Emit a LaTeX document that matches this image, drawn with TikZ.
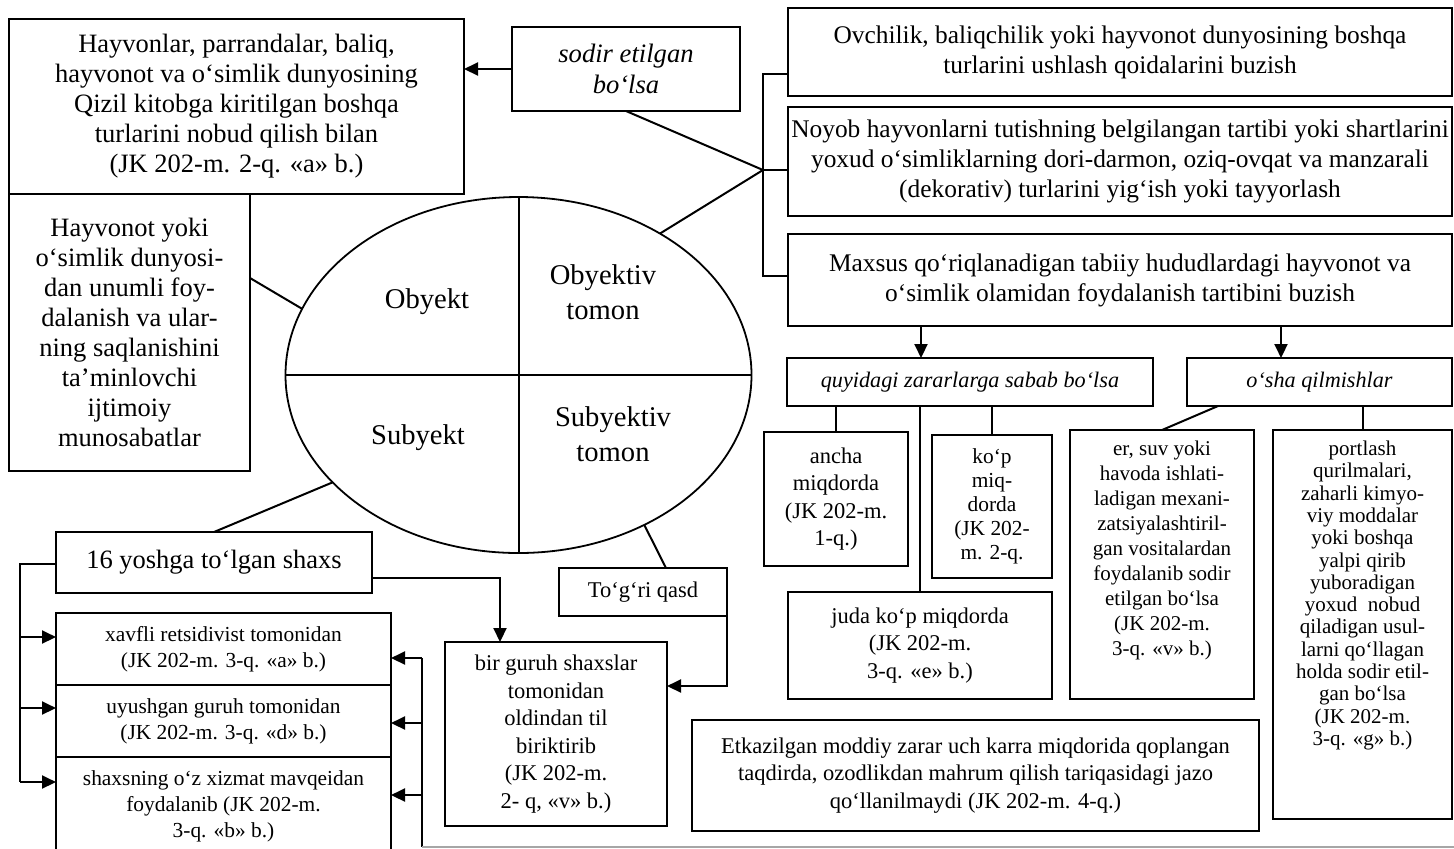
\documentclass[tikz,border=0pt]{standalone}
\usepackage{fontspec}
\setmainfont{Liberation Serif}
\usetikzlibrary{shapes.geometric,arrows.meta,calc}
\begin{document}
\begin{tikzpicture}[x=0.5pt,y=-0.5pt,
  every node/.style={inner sep=0pt,outer sep=0pt},
  box/.style={draw,line width=1pt,align=center,inner sep=0pt,fill=white},
  span/.style n args={4}{minimum width={(#3-#1)*0.5pt},minimum height={(#4-#2)*0.5pt},at={({(#1+#3)/2},{(#2+#4)/2})}},
  conn/.style={line width=1pt},
  arr/.style={line width=1pt,-{Triangle[length=7pt,width=6.5pt]}},
  fmain/.style={font=\fontsize{13.25pt}{15pt}\selectfont},
  fright/.style={font=\fontsize{12.7pt}{15pt}\selectfont},
  fell/.style={font=\fontsize{14.3pt}{17.5pt}\selectfont,align=center},
  fitl/.style={font=\fontsize{13.3pt}{15.5pt}\selectfont\itshape},
  fitsm/.style={font=\fontsize{11.1pt}{13pt}\selectfont\itshape},
  fsm/.style={font=\fontsize{11.25pt}{13.75pt}\selectfont},
  fkop/.style={font=\fontsize{10.7pt}{12pt}\selectfont},
  fer/.style={font=\fontsize{10.5pt}{12.5pt}\selectfont,align=center},
  fpl/.style={font=\fontsize{10.5pt}{11.15pt}\selectfont,align=center},
  fs/.style={font=\fontsize{10.7pt}{13pt}\selectfont}
]
\useasboundingbox[fill=white] (0,0) rectangle (1454,848);

% ellipse
\node[draw,ellipse,line width=0.9pt,minimum width=233pt,minimum height=178pt] (E) at (518.5,375) {};
\draw[conn] (E.west) -- (E.east);
\draw[conn] (E.north) -- (E.south);
\node[fell] (ob) at (427,302) {Obyekt};
\node[fell] (obt) at (603,292) {Obyektiv\\tomon};
\node[fell] (sb) at (418,438) {Subyekt};
\node[fell] (sbt) at (613,434) {Subyektiv\\tomon};

% left top
\node[box,fmain,span={9}{19}{464}{194}] (A) {Hayvonlar, parrandalar, baliq,\\ hayvonot va o‘simlik dunyosining\\ Qizil kitobga kiritilgan boshqa\\ turlarini nobud qilish bilan\\ (JK 202-m. 2-q. «a» b.)};
\node[box,fmain,span={9}{194}{250}{471}] (B) {Hayvonot yoki\\ o‘simlik dunyosi-\\ dan unumli foy-\\ dalanish va ular-\\ ning saqlanishini\\ ta’minlovchi\\ ijtimoiy\\ munosabatlar};
\node[box,fitl,span={512}{27}{740}{111}] (sod) {sodir etilgan\\ bo‘lsa};

% right top
\node[box,fright,span={788}{8}{1452}{96}] (r1) {Ovchilik, baliqchilik yoki hayvonot dunyosining boshqa\\ turlarini ushlash qoidalarini buzish};
\node[box,fright,span={788}{107}{1452}{216}] (r2) {Noyob hayvonlarni tutishning belgilangan tartibi yoki shartlarini\\ yoxud o‘simliklarning dori-darmon, oziq-ovqat va manzarali\\ (dekorativ) turlarini yig‘ish yoki tayyorlash};
\node[box,fright,span={788}{234}{1452}{326}] (r3) {Maxsus qo‘riqlanadigan tabiiy hududlardagi hayvonot va\\ o‘simlik olamidan foydalanish tartibini buzish};

\node[box,fitsm,span={787}{358}{1153}{406}] (quy) {quyidagi zararlarga sabab bo‘lsa};
\node[box,fitsm,span={1187}{358}{1452}{406}] (osha) {o‘sha qilmishlar};

\node[box,fsm,span={764}{432}{908}{566}] (anc) {ancha\\ miqdorda\\ (JK 202-m.\\ 1-q.)};
\node[box,fkop,span={932}{435}{1052}{578}] (kop) {ko‘p\\ miq-\\ dorda\\ (JK 202-\\ m. 2-q.};
\node[box,fsm,span={788}{592}{1052}{699}] (juda) {juda ko‘p miqdorda\\ (JK 202-m.\\ 3-q. «e» b.)};
\node[box,span={1070}{430}{1254}{699}] (er) {};
\node[fer,anchor=north] (ert) at ($(er.north)+(0,11)$) {er, suv yoki\\ havoda ishlati-\\ ladigan mexani-\\ zatsiyalashtiril-\\ gan vositalardan\\ foydalanib sodir\\ etilgan bo‘lsa\\ (JK 202-m.\\ 3-q. «v» b.)};
\node[box,span={1273}{430}{1452}{819}] (pl) {};
\node[fpl,anchor=north] (plt) at ($(pl.north)+(0,11)$) {portlash\\ qurilmalari,\\ zaharli kimyo-\\ viy moddalar\\ yoki boshqa\\ yalpi qirib\\ yuboradigan\\ yoxud\ \ nobud\\ qiladigan usul-\\ larni qo‘llagan\\ holda sodir etil-\\ gan bo‘lsa\\ (JK 202-m.\\ 3-q. «g» b.)};
\node[box,fsm,span={692}{720}{1259}{831}] (et) {Etkazilgan moddiy zarar uch karra miqdorida qoplangan\\ taqdirda, ozodlikdan mahrum qilish tariqasidagi jazo\\ qo‘llanilmaydi (JK 202-m. 4-q.)};

% left bottom
\node[box,fmain,span={56}{532}{372}{593}] (y16) {16 yoshga to‘lgan shaxs};
\node[box,fs,span={56}{613}{391}{685}] (s1) {xavfli retsidivist tomonidan\\ (JK 202-m. 3-q. «a» b.)};
\node[box,fs,span={56}{685}{391}{757}] (s2) {uyushgan guruh tomonidan\\ (JK 202-m. 3-q. «d» b.)};
\node[box,fs,span={56}{757}{391}{855}] (s3) {shaxsning o‘z xizmat mavqeidan\\ foydalanib (JK 202-m.\\ 3-q. «b» b.)};
\node[box,fsm,span={559}{568}{727}{616}] (qasd) {To‘g‘ri qasd};
\node[box,fsm,span={445}{642}{667}{826}] (bir) {bir guruh shaxslar\\ tomonidan\\ oldindan til\\ biriktirib\\ (JK 202-m.\\ 2- q, «v» b.)};

% connectors top
\draw[arr] (sod.west) -- (sod.west -| A.east);
\coordinate (J) at (763,170);
\coordinate (Jt) at (763,74);
\coordinate (Jb) at (763,276);
\draw[conn] (sod.south) -- (J) -- (E.45);
\draw[conn] (Jt -| r1.west) -- (Jt) -- (Jb) -- (Jb -| r3.west);
\draw[conn] (J) -- (J -| r2.west);
\draw[conn] ($(B.north east)+(0,84)$) -- (E.163);

% connectors right
\draw[arr] ($(r3.south west)+(133,0)$) -- ($(quy.north west)+(134,0)$);
\draw[arr] ($(r3.south west)+(493,0)$) -- ($(osha.north west)+(94,0)$);
\draw[conn] (anc.north |- quy.south) -- (anc.north);
\draw[conn] (kop.north |- quy.south) -- (kop.north);
\draw[conn] (juda.north |- quy.south) -- (juda.north);
\draw[conn] ($(osha.south west)+(31,0)$) -- (er.north);
\draw[conn] (pl.north |- osha.south) -- (pl.north);

% connectors bottom left
\draw[conn] (E.210) -- (y16.north);
\draw[arr] ($(y16.north east)+(0,46)$) -| ($(bir.north west)+(55,0)$);
\coordinate (Lt) at (20,564);
\coordinate (Lb) at (20,782);
\draw[conn] ($(y16.north west)+(0,32)$) -- (Lt) -- (Lb);
\draw[arr] ($(s1.north west)+(-36,24)$) -- ($(s1.north west)+(0,24)$);
\draw[arr] ($(s2.north west)+(-36,23)$) -- ($(s2.north west)+(0,23)$);
\draw[arr] ($(s3.north west)+(-36,25)$) -- ($(s3.north west)+(0,25)$);
\coordinate (Rb) at (422,847);
\coordinate (Re) at (1456,847);
\draw[conn] ($(s1.north east)+(31,45)$) -- (Rb);
\draw[gray!70,line width=0.7pt] (Rb) -- (Re);
\draw[arr] ($(s1.north east)+(31,45)$) -- ($(s1.north east)+(0,45)$);
\draw[arr] ($(s2.north east)+(31,38)$) -- ($(s2.north east)+(0,38)$);
\draw[arr] ($(s3.north east)+(31,38)$) -- ($(s3.north east)+(0,38)$);
\draw[conn] (E.310) -- ($(qasd.north)+(23,0)$);
\draw[arr] (qasd.south east) |- ($(bir.north east)+(0,44)$);
\end{tikzpicture}
\end{document}
